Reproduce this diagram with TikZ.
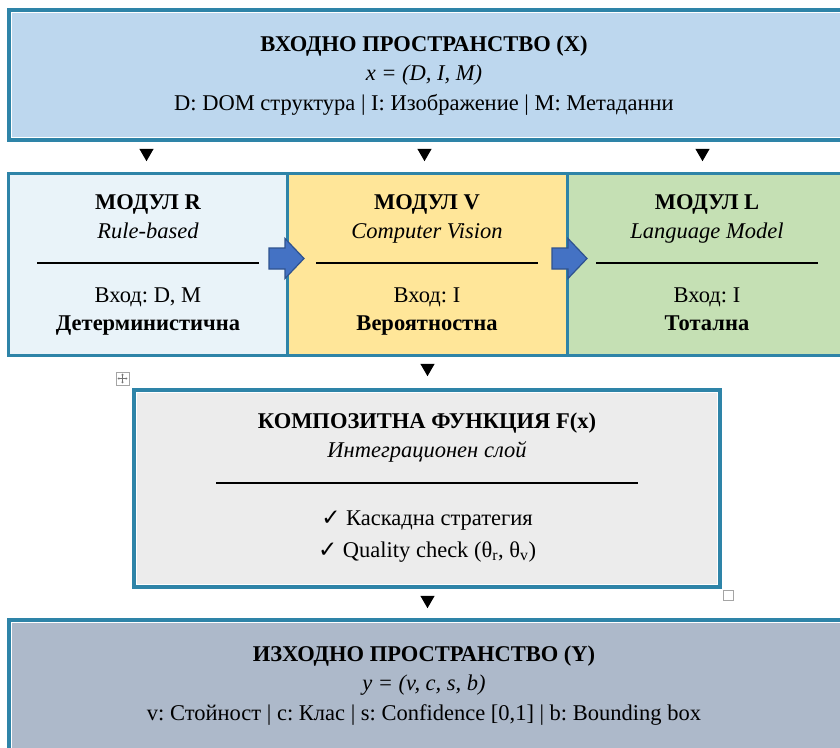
\documentclass[tikz,border=0pt]{standalone}
\usepackage{fontspec}
\setmainfont{Liberation Serif}
\newfontfamily\symfont{DejaVu Sans}
\usetikzlibrary{shapes.geometric,arrows.meta}
\frenchspacing
\definecolor{bordc}{RGB}{46,132,168}
\definecolor{topfill}{RGB}{189,215,238}
\definecolor{rfill}{RGB}{233,243,249}
\definecolor{vfill}{RGB}{255,230,153}
\definecolor{lfill}{RGB}{197,224,180}
\definecolor{cfill}{RGB}{236,236,236}
\definecolor{botfill}{RGB}{173,185,202}
\definecolor{arrfill}{RGB}{68,114,196}
\definecolor{arrdraw}{RGB}{47,82,143}
\definecolor{handlec}{RGB}{165,165,165}
\tikzset{
  bigbox/.style={draw=bordc, line width=4pt, rectangle, inner sep=0pt, anchor=north west},
  modbox/.style={draw=bordc, line width=3pt, rectangle, inner sep=0pt, anchor=north west},
  innerline/.style={draw=white, line width=0.9pt},
  txt/.style={anchor=base, inner sep=0pt, font=\fontsize{22.5}{26}\selectfont},
  rulebar/.style={draw=black, line width=2.5pt},
  downtri/.style={regular polygon, regular polygon sides=3, shape border rotate=180, fill=black, minimum size=16.4pt, inner sep=0pt},
  blockarrow/.style={fill=arrfill, draw=arrdraw, line width=1.2pt, line join=miter},
  handle/.style={draw=handlec, line width=0.8pt, fill=white}
}
\begin{document}
\begin{tikzpicture}[x=1pt,y=-1pt]
\useasboundingbox (0,0) rectangle (840,747);
\clip (0,0) rectangle (840,747);

% ---------- input space ----------
\node[bigbox, fill=topfill, minimum width=860pt, minimum height=130.2pt] (inbox) at (6.7,7.5) {};
\draw[innerline] ([shift={(4.45pt,-4.45pt)}]inbox.north west) rectangle ([shift={(-4.45pt,4.45pt)}]inbox.south east);
\node[txt] (inT) at (424,51.5) {\bfseries ВХОДНО ПРОСТРАНСТВО (X)};
\node[txt] (inS) at (424,80.5) {\itshape x = (D, I, M)};
\node[txt] (inD) at (424,110) {D: DOM структура | I: Изображение | M: Метаданни};

% ---------- triangles row 1 ----------
\node[downtri] (d1) at (146.5,153) {};
\node[downtri] (d2) at (424.5,153) {};
\node[downtri] (d3) at (702.5,153) {};

% ---------- modules ----------
\node[modbox, fill=rfill, minimum width=279.3pt, minimum height=182pt] (modR) at (6.7,172) {};
\node[modbox, fill=vfill, minimum width=280pt, minimum height=182pt] (modV) at (286,172) {};
\node[modbox, fill=lfill, minimum width=300pt, minimum height=182pt] (modL) at (566,172) {};

\node[txt] (rT) at (148,209) {\bfseries МОДУЛ R};
\node[txt] (rS) at (148,238) {\itshape Rule-based};
\coordinate (rA) at (37,263); \coordinate (rB) at (259,263);
\draw[rulebar] (rA) -- (rB);
\node[txt] (rI) at (148,302) {Вход: D, M};
\node[txt] (rK) at (148,330.5) {\bfseries Детерминистична};

\node[txt] (vT) at (427,209) {\bfseries МОДУЛ V};
\node[txt] (vS) at (427,238) {\itshape Computer Vision};
\coordinate (vA) at (316,263); \coordinate (vB) at (538,263);
\draw[rulebar] (vA) -- (vB);
\node[txt] (vI) at (427,302) {Вход: I};
\node[txt] (vK) at (427,330.5) {\bfseries Вероятностна};

\node[txt] (lT) at (707,209) {\bfseries МОДУЛ L};
\node[txt] (lS) at (707,238) {\itshape Language Model};
\coordinate (lA) at (596,263); \coordinate (lB) at (818,263);
\draw[rulebar] (lA) -- (lB);
\node[txt] (lI) at (707,302) {Вход: I};
\node[txt] (lK) at (707,330.5) {\bfseries Тотална};

% block arrows
\draw[blockarrow] (269,248) -- (285,248) -- (285,238.5) -- (304,258.5) -- (285,278.5) -- (285,269) -- (269,269) -- cycle;
\draw[blockarrow] (552,248) -- (568,248) -- (568,238.5) -- (587,258.5) -- (568,278.5) -- (568,269) -- (552,269) -- cycle;

% ---------- triangle row 2 ----------
\node[downtri] (d4) at (427.5,368) {};

% handles
\node[handle, minimum size=13pt, inner sep=0pt] (mvh) at (122.5,378.5) {};
\draw[handlec!70!black, line width=0.5pt, {Triangle[length=1.6pt,width=2.4pt]}-{Triangle[length=1.6pt,width=2.4pt]}] ([xshift=2pt]mvh.west) -- ([xshift=-2pt]mvh.east);
\draw[handlec!70!black, line width=0.5pt, {Triangle[length=1.6pt,width=2.4pt]}-{Triangle[length=1.6pt,width=2.4pt]}] ([yshift=-2pt]mvh.north) -- ([yshift=2pt]mvh.south);

% ---------- composite ----------
\node[bigbox, fill=cfill, minimum width=586pt, minimum height=197.3pt] (comp) at (132,387.7) {};
\draw[innerline] ([shift={(4.45pt,-4.45pt)}]comp.north west) rectangle ([shift={(-4.45pt,4.45pt)}]comp.south east);
\node[txt] (cT) at (427,428) {\bfseries КОМПОЗИТНА ФУНКЦИЯ F(x)};
\node[txt] (cS) at (427,457) {\itshape Интеграционен слой};
\coordinate (cA) at (216,483); \coordinate (cB) at (638,483);
\draw[rulebar] (cA) -- (cB);
\node[txt] (c1) at (427,525.5) {{\symfont\fontsize{23}{26}\selectfont ✓} Каскадна стратегия};
\node[txt] (c2) at (427,557.5) {{\symfont\fontsize{23}{26}\selectfont ✓} Quality check (θ\textsubscript{r}, θ\textsubscript{v})};

\node[handle, minimum size=10pt, inner sep=0pt] (rsh) at (728,595.5) {};

% ---------- triangle row 3 ----------
\node[downtri] (d5) at (427.5,600) {};

% ---------- output space ----------
\node[bigbox, fill=botfill, minimum width=860pt, minimum height=140pt] (outbox) at (6.7,618) {};
\draw[innerline] ([shift={(4.45pt,-4.45pt)}]outbox.north west) rectangle ([shift={(-4.45pt,4.45pt)}]outbox.south east);
\node[txt] (oT) at (424,661.5) {\bfseries ИЗХОДНО ПРОСТРАНСТВО (Y)};
\node[txt] (oS) at (424,690.5) {\itshape y = (v, c, s, b)};
\node[txt] (oD) at (424,720) {v: Стойност | c: Клас | s: Confidence [0,1] | b: Bounding box};
\end{tikzpicture}
\end{document}
